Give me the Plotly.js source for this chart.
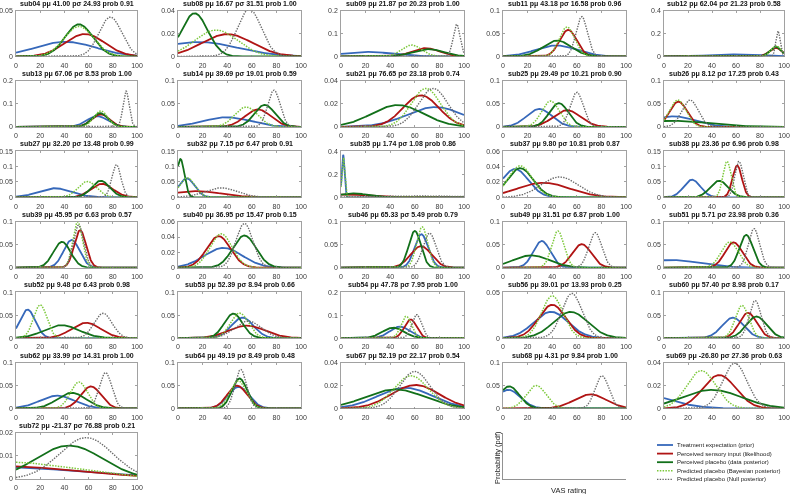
<!DOCTYPE html>
<html><head><meta charset="utf-8">
<script src="https://cdn.plot.ly/plotly-3.0.1.min.js"></script>
<style>html,body{margin:0;padding:0;background:#fff}#chart{width:794px;height:494px;will-change:transform}</style>
</head><body><div id="chart"></div>
<script>
// ---- data (Gaussian pdf parameters per subject) ----
const subjects = ["sub04","sub08","sub09","sub11","sub12","sub13","sub14","sub21","sub25","sub26",
  "sub27","sub32","sub35","sub37","sub38","sub39","sub40","sub46","sub49","sub51",
  "sub52","sub53","sub54","sub56","sub60","sub62","sub64","sub67","sub68","sub69","sub72"];
const priorMu = [41.00,16.67,21.87,43.18,62.04,67.06,39.69,76.65,29.49,8.12,
  32.20,7.15,1.74,9.80,23.36,45.95,36.95,65.33,31.51,5.71,
  9.48,52.39,47.78,39.01,57.40,33.99,49.19,52.19,4.31,-26.80,-21.37];
const priorSd = [24.93,31.51,20.23,16.58,21.23,8.53,19.01,23.18,10.21,17.25,
  13.48,6.47,1.08,10.81,6.96,6.63,15.47,5.49,6.87,23.98,
  6.43,8.94,7.95,13.93,8.98,14.31,8.49,22.17,9.84,27.36,76.88];
const probs = [0.91,1.00,1.00,0.96,0.58,1.00,0.59,0.74,0.90,0.43,
  0.99,0.91,0.86,0.87,0.98,0.57,0.15,0.79,1.00,0.36,
  0.98,0.66,1.00,0.25,0.17,1.00,0.48,0.54,1.00,0.63,0.21];
// likelihood (perceived sensory input)
const likMu = [57,40,69,53,93,70,65,65,52,12, 71,15,5,33,61, 53,33,65,64,58, 58,56,56.5,40,70, 62,48,60.5,71,46,-20];
const likSd = [16.3,20.5,11,6.9,5.3,7.25,10.5,14.5,11,7.25, 9.1,20,16,21,3.85, 4.9,9.7,8.5,7.8,7.25, 12,14.8,4.9,11,7.25, 8.3,8,19.5,13,13.7,70];
// data posterior (perceived placebo)
const postMu = [52,13.5,71,44,93,69.5,70.5,46,45.4,8, 70,2,10,14,46, 38,54,60,23,68.5, 37.7,45,42.5,55,77, 46,50,44,5,40,44];
const postSd = [11.4,10.6,12.5,11.5,4.7,6.65,8.3,21,7.7,30, 7.4,3.2,11.4,10.5,7.4, 7.1,9.5,5,14.8,5.6, 14.2,7.5,8.8,14,8.5, 11.7,6.1,24,8.3,24.5,27.5];
// Bayesian posterior (predicted placebo)
const bayesMu = [52,31,57.5,52,93.5,70,55.4,69,38.6,11.4, 59,7.5,1.9,14,52.5, 51,35,66,44.6,54.7, 20,50,53,40,65, 52,49,57,27,31,-5];
const bayesSd = [12.2,17.3,8,6.2,4.4,5.7,9.2,11.9,7.1,6.8, 7.7,6.3,1.15,9.7,3.4, 4,9,4.5,5,7.1, 5.5,7.3,4.2,8.7,5.6, 6.9,6.65,14,8,12.1,55];
// null posterior (predicted placebo)
const nullMu = [78,58,94,64,95,91,78,75,60,21.7, 83,35,65,46,62.5, 51.7,54,72,75,75, 72,57,61.5,56,76, 74,51,60,80.5,59,58];
const nullSd = [9.3,9.7,2.85,4.6,1.8,2.56,5,11.9,5.3,6.8, 3.75,12.9,35,15,3.4, 4.3,6.9,5.3,5.25,4.7, 7.4,10.8,3.9,8.2,4.9, 5.1,4.7,12.4,5.6,10.1,22.2];
const yMax = [0.05,0.04,0.2,0.1,0.4,0.2,0.1,0.04,0.1,0.1,
  0.15,0.15,0.4,0.06,0.15,0.1,0.06,0.1,0.1,0.1,
  0.1,0.1,0.2,0.05,0.1,0.1,0.1,0.04,0.1,0.04,0.02];
const yStep = [0.05,0.02,0.1,0.05,0.2,0.1,0.05,0.02,0.05,0.05,
  0.05,0.05,0.2,0.02,0.05,0.05,0.02,0.05,0.05,0.05,
  0.05,0.05,0.1,0.05,0.05,0.05,0.05,0.02,0.05,0.02,0.01];
const xTicks = [0,20,40,60,80,100];
const seriesNames = ["Treatment expectation (prior)","Perceived sensory input (likelihood)",
  "Perceived placebo (data posterior)","Predicted placebo (Bayesian posterior)","Predicted placebo (Null posterior)"];

// ---- styling ----
const W = 794, H = 494;
const FONT = "Liberation Sans, Arial, Helvetica, sans-serif";
const colL = [16,178,341,503,664], colR = [137,301,464,626,784];
const rowTop = r => 10.5 + 70.4*r, rowH = 46;
const styles = [
  {color:"#3668ba", width:1.8, dash:"solid"},
  {color:"#b01414", width:1.8, dash:"solid"},
  {color:"#12701a", width:1.8, dash:"solid"},
  {color:"#7cc83a", width:1.5, dash:"1.5px,1.3px"},
  {color:"#6a6a6a", width:1.4, dash:"1.4px,1.3px"}
];
const xs = [];
for (let i = 0; i <= 400; i++) xs.push(i*0.25);
const pdf = (mu, sd) => xs.map(x => Math.exp(-0.5*((x-mu)/sd)**2)/(sd*Math.sqrt(2*Math.PI)));

const traces = [], annotations = [], shapes = [];
const layout = {width:W, height:H, margin:{l:0,r:0,t:0,b:0}, paper_bgcolor:"#fff", plot_bgcolor:"#fff",
  showlegend:false, font:{family:FONT}};

subjects.forEach((s, i) => {
  const k = i+1, r = Math.floor(i/5), c = i%5;
  const xa = k===1 ? "x" : "x"+k, ya = k===1 ? "y" : "y"+k;
  const top = rowTop(r), bot = top + rowH;
  const params = [[priorMu[i],priorSd[i]],[likMu[i],likSd[i]],[postMu[i],postSd[i]],[bayesMu[i],bayesSd[i]],[nullMu[i],nullSd[i]]];
  params.forEach((p, j) => {
    traces.push({x:xs, y:pdf(p[0],p[1]), xaxis:xa, yaxis:ya, mode:"lines", name:seriesNames[j],
      line:{color:styles[j].color, width:styles[j].width, dash:styles[j].dash}, hoverinfo:"skip", showlegend:false});
  });
  const yt = [];
  for (let t = 0; t <= Math.round(yMax[i]/yStep[i]); t++) yt.push(Number((t*yStep[i]).toFixed(3)));
  const axCommon = {showgrid:false, zeroline:false, showline:true, linecolor:"#8a8a8a", linewidth:0.8,
    mirror:"ticks", ticks:"inside", ticklen:2, tickcolor:"#8a8a8a", tickwidth:0.8,
    tickfont:{family:FONT, size:7, color:"#3a3a3a"}, fixedrange:true, ticklabeloverflow:"allow"};
  layout[k===1?"xaxis":"xaxis"+k] = Object.assign({}, axCommon, {domain:[colL[c]/W, colR[c]/W], range:[0,100],
    tickvals:xTicks, anchor:ya, ticklabelstandoff:2});
  layout[k===1?"yaxis":"yaxis"+k] = Object.assign({}, axCommon, {domain:[1-bot/H, 1-top/H], range:[0,yMax[i]],
    tickvals:yt, anchor:xa, ticklabelstandoff:1});
  const title = `${s} pμ ${priorMu[i].toFixed(2)} pσ ${priorSd[i].toFixed(2)} prob ${probs[i].toFixed(2)}`;
  annotations.push({xref:"paper", yref:"paper", x:(colL[c]+colR[c])/2/W, y:1-(top-1)/H, xanchor:"center", yanchor:"bottom",
    text:"<b>"+title+"</b>", showarrow:false, font:{family:FONT, size:7, color:"#111"}});
});

// legend panel axes (empty, axis lines only)
const kL = 32, topL = rowTop(6), botL = topL + rowH;
traces.push({x:[], y:[], xaxis:"x"+kL, yaxis:"y"+kL, mode:"lines", showlegend:false, hoverinfo:"skip"});
layout["xaxis"+kL] = {domain:[colL[3]/W, colR[3]/W], range:[0,1], showline:true, linecolor:"#777", linewidth:0.8,
  showgrid:false, zeroline:false, ticks:"", showticklabels:false, anchor:"y"+kL, fixedrange:true};
layout["yaxis"+kL] = {domain:[1-botL/H, 1-topL/H], range:[0,1], showline:true, linecolor:"#777", linewidth:0.8,
  showgrid:false, zeroline:false, ticks:"", showticklabels:false, anchor:"x"+kL, fixedrange:true};
annotations.push({xref:"paper", yref:"paper", x:568/W, y:1-490/H, xanchor:"center", yanchor:"middle",
  text:"VAS rating", showarrow:false, font:{family:FONT, size:7.5, color:"#222"}});
annotations.push({xref:"paper", yref:"paper", x:497/W, y:1-457/H, xanchor:"center", yanchor:"middle", textangle:-90,
  text:"Probability (pdf)", showarrow:false, font:{family:FONT, size:7.5, color:"#222"}});

// legend
seriesNames.forEach((nm, j) => {
  const yy = 445 + 8.6*j;
  shapes.push({type:"line", xref:"paper", yref:"paper", x0:657/W, x1:673/W, y0:1-yy/H, y1:1-yy/H,
    line:{color:styles[j].color, width:styles[j].width, dash:styles[j].dash}});
  annotations.push({xref:"paper", yref:"paper", x:675/W, y:1-yy/H, xanchor:"left", yanchor:"middle",
    text:nm, showarrow:false, font:{family:FONT, size:6, color:"#222"}});
});

layout.annotations = annotations;
layout.shapes = shapes;
Plotly.newPlot("chart", traces, layout, {staticPlot:true, displayModeBar:false});
</script></body></html>
